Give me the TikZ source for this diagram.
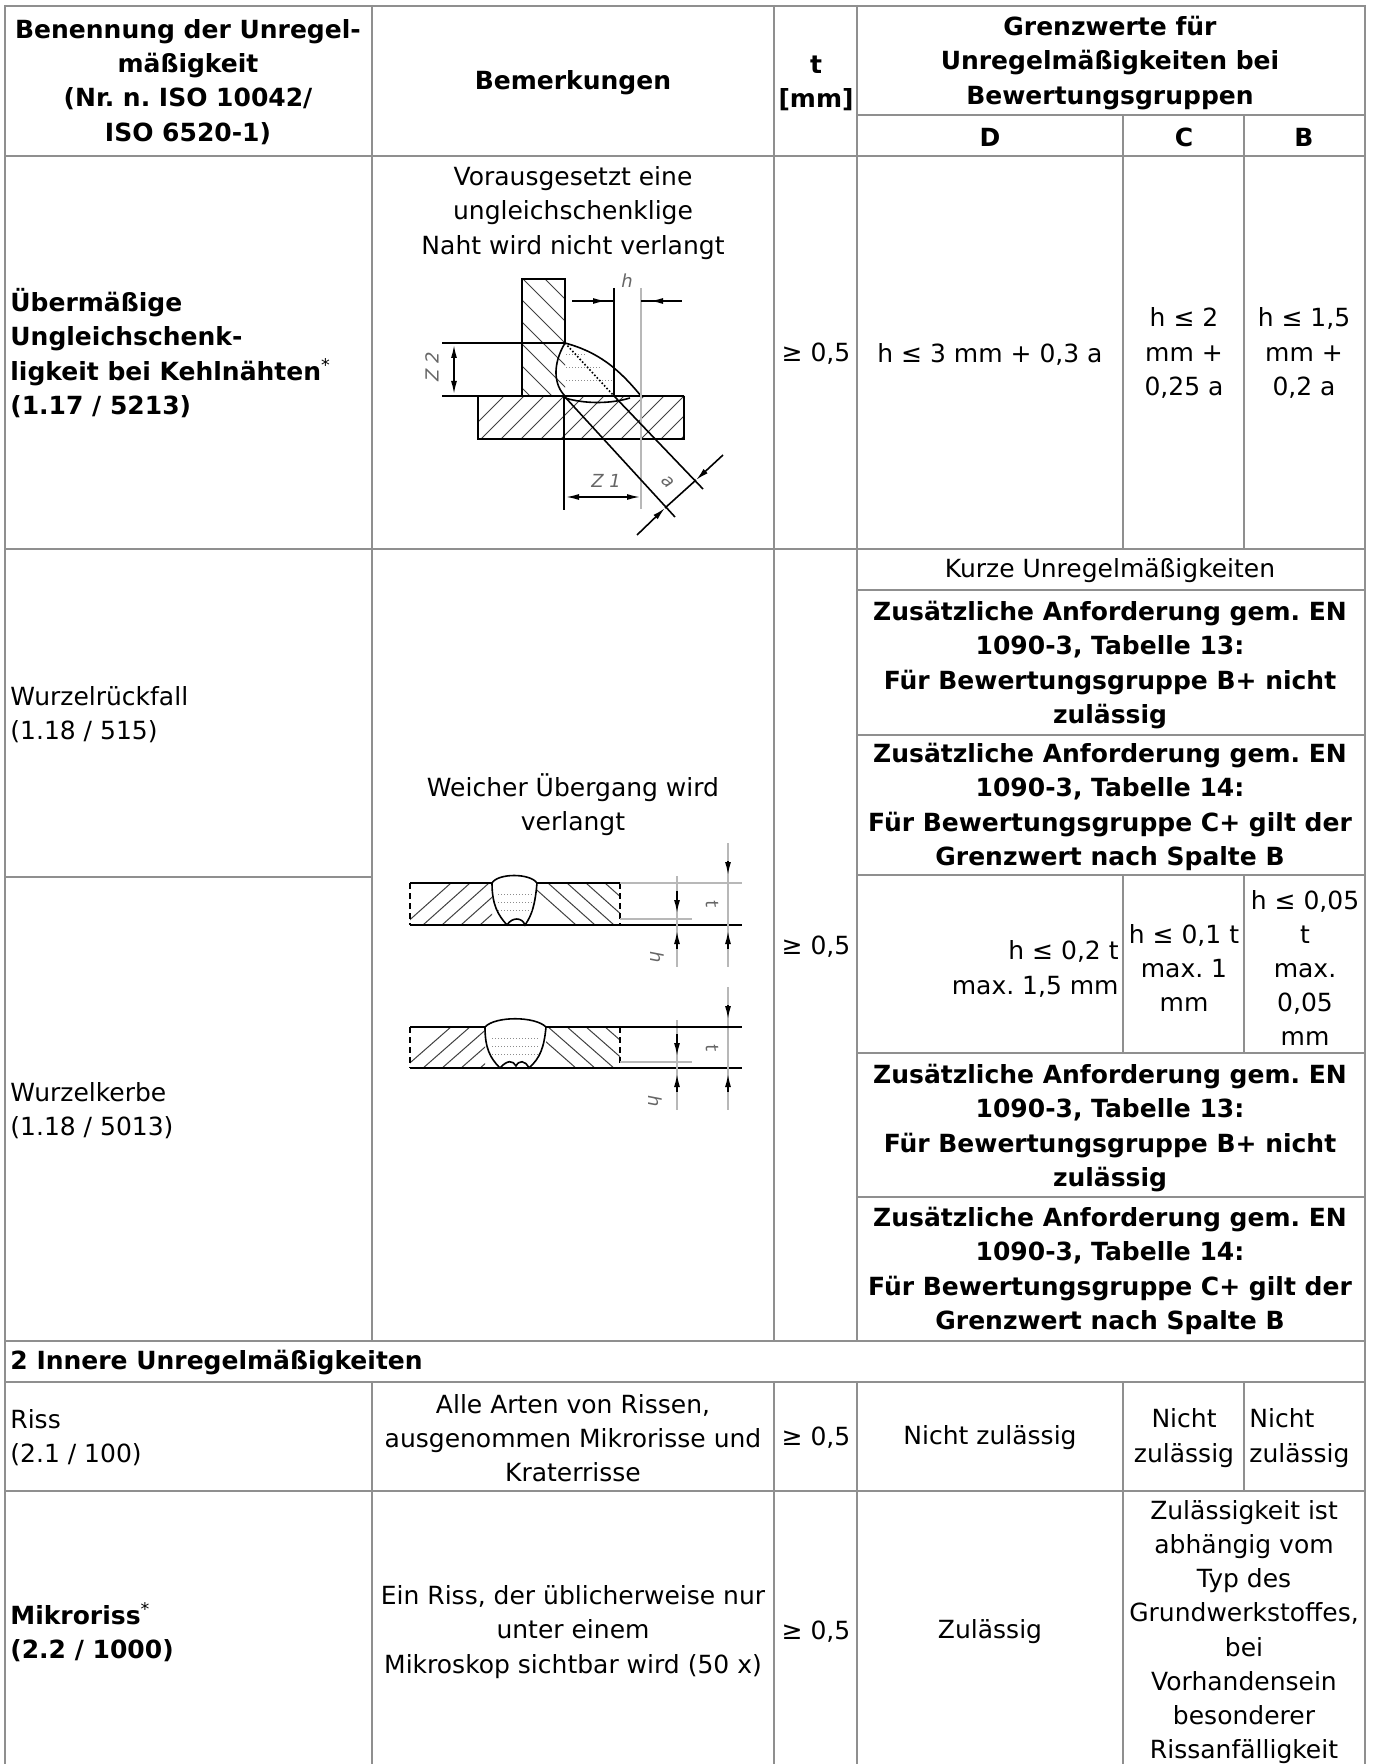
\documentclass[tikz,border=0pt]{standalone}
\usepackage{fontspec}
\setmainfont{DejaVu Sans}
\usetikzlibrary{arrows.meta}
\definecolor{gridgray}{gray}{0.56}
\definecolor{linegray}{gray}{0.72}
\tikzset{%
  >={Latex[width=3pt,length=6.5pt]},
  % Specifications for style of nodes:
         base/.style = {inner sep=0pt, align=center,
                        font=\frenchspacing\fontsize{12.5}{17.1}\selectfont},
     boldcell/.style = {base, font=\frenchspacing\fontsize{12.5}{17.1}\selectfont\bfseries},
     leftcell/.style = {base, anchor=west, align=left},
     leftbold/.style = {boldcell, anchor=west, align=left},
    rightcell/.style = {base, anchor=east, align=right},
     drawtext/.style = {inner sep=0pt, text=black!60, font=\fontsize{9}{10}\selectfont\itshape},
         grid/.style = {draw=gridgray, line width=1pt},
        thick/.style = {draw=black, line width=1.2pt},
         thin/.style = {draw=black, line width=.8pt},
        hatch/.style = {draw=black!75, line width=.5pt},
      dimgray/.style = {draw=linegray, line width=1.1pt},
      stipple/.style = {draw=black!45, line width=.5pt, densely dotted},
}
\begin{document}
\begin{tikzpicture}[x=0.5pt,y=-0.5pt]
  \useasboundingbox (0,0) rectangle (1373,1764);
  % table rules
  \foreach \ya/\xa/\xb in {6/5/1365,115/857/1365,156/5/1365,549/5/1365,590/857/1365,735/857/1365,875/857/1365,877/5/372,1053/857/1365,1197/857/1365,1341/5/1365,1382/5/1365,1491/5/1365}
    \draw[grid] (\xa,\ya) -- (\xb,\ya);
  \foreach \xa/\ya/\yb in {5/5/1764,1365/5/1764,372/5/1341,372/1382/1764,774/5/1341,774/1382/1764,857/5/1341,857/1382/1764,1123/115/549,1123/875/1053,1123/1382/1764,1244/115/549,1244/875/1053,1244/1382/1491}
    \draw[grid] (\xa,\ya) -- (\xa,\yb);

  % Specification of nodes (position, etc.)
  \node (benennung) [boldcell] at (188,82) {Benennung der Unregel-\\mäßigkeit\\(Nr. n. ISO 10042/\\ISO 6520-1)};
  \node (bemerkungen) [boldcell] at (573,83) {Bemerkungen};
  \node (dicke) [boldcell] at (816,83) {t\\{[mm]}};
  \node (grenzwerte) [boldcell] at (1110,63) {Grenzwerte für\\Unregelmäßigkeiten bei\\Bewertungsgruppen};
  \node (gruppeD) [boldcell] at (990,137) {D};
  \node (gruppeC) [boldcell] at (1184,137) {C};
  \node (gruppeB) [boldcell] at (1304,137) {B};

  \node (ungleich) [leftbold] at (10,353) {Übermäßige\\Ungleichschenk-\\ligkeit bei Kehlnähten\textsuperscript{\normalfont *}\\(1.17 / 5213)};
  \node (voraus) [base] at (573,213) {Vorausgesetzt eine\\ungleichschenklige\\Naht wird nicht verlangt};
  \node (ungleichT) [base] at (816,354) {≥ 0,5};
  \node (ungleichD) [base] at (990,354) {h ≤ 3 mm + 0,3 a};
  \node (ungleichC) [base] at (1184,353) {h ≤ 2\\mm +\\0,25 a};
  \node (ungleichB) [base] at (1304,353) {h ≤ 1,5\\mm +\\0,2 a};

  \node (rueckfall) [leftcell] at (10,715) {Wurzelrückfall\\(1.18 / 515)};
  \node (kerbe) [leftcell] at (10,1111) {Wurzelkerbe\\(1.18 / 5013)};
  \node (weicher) [base] at (573,805) {Weicher Übergang wird\\verlangt};
  \node (wurzelT) [base] at (816,947) {≥ 0,5};
  \node (kurze) [base] at (1110,571) {Kurze Unregelmäßigkeiten};
  \node (zusatzA) [boldcell] at (1110,665) {Zusätzliche Anforderung gem. EN\\1090-3, Tabelle 13:\\Für Bewertungsgruppe B+ nicht\\zulässig};
  \node (zusatzB) [boldcell] at (1110,807) {Zusätzliche Anforderung gem. EN\\1090-3, Tabelle 14:\\Für Bewertungsgruppe C+ gilt der\\Grenzwert nach Spalte B};
  \node (wurzelD) [rightcell] at (1119,969) {h ≤ 0,2 t\\max. 1,5 mm};
  \node (wurzelC) [base] at (1184,968) {h ≤ 0,1 t\\max. 1\\mm};
  \node (wurzelB) [base] at (1305,968) {h ≤ 0,05\\t\\max.\\0,05\\mm};
  \node (zusatzC) [boldcell] at (1110,1128) {Zusätzliche Anforderung gem. EN\\1090-3, Tabelle 13:\\Für Bewertungsgruppe B+ nicht\\zulässig};
  \node (zusatzD) [boldcell] at (1110,1271) {Zusätzliche Anforderung gem. EN\\1090-3, Tabelle 14:\\Für Bewertungsgruppe C+ gilt der\\Grenzwert nach Spalte B};

  \node (innere) [leftbold] at (10,1363) {2 Innere Unregelmäßigkeiten};

  \node (riss) [leftcell] at (10,1438) {Riss\\(2.1 / 100)};
  \node (arten) [base] at (573,1438) {Alle Arten von Rissen,\\ausgenommen Mikrorisse und\\Kraterrisse};
  \node (rissT) [base] at (816,1438) {≥ 0,5};
  \node (rissD) [base] at (990,1438) {Nicht zulässig};
  \node (rissC) [base] at (1184,1438) {Nicht\\zulässig};
  \node (rissB) [leftcell] at (1249,1438) {Nicht\\zulässig};

  \node (mikro) [leftbold] at (10,1632) {Mikroriss\textsuperscript{\normalfont *}\\(2.2 / 1000)};
  \node (einriss) [base] at (573,1632) {Ein Riss, der üblicherweise nur\\unter einem\\Mikroskop sichtbar wird (50 x)};
  \node (mikroT) [base] at (816,1632) {≥ 0,5};
  \node (mikroD) [base] at (990,1632) {Zulässig};
  \node (mikroCB) [base] at (1244,1632) {Zulässigkeit ist\\abhängig vom\\Typ des\\Grundwerkstoffes,\\bei\\Vorhandensein\\besonderer\\Rissanfälligkeit};

  % fillet weld sketch
  \begin{scope}
    \clip (522,279) rectangle (565,396);
    \foreach \d in {0,22,...,220}
      \draw[hatch] (500,190+\d) -- (600,290+\d);
  \end{scope}
  \begin{scope}
    \clip (478,396) rectangle (684,439);
    \foreach \d in {0,20,...,320}
      \draw[hatch] (430+\d,470) -- (530+\d,370);
  \end{scope}
  \foreach \ya/\xb in {355/585,368/600,381/612}
    \draw[stipple] (566,\ya) -- (\xb,\ya);
  \draw[thin] (522,396) -- (522,279) -- (565,279) -- (565,343);
  \draw[thick] (478,396) -- (684,396);
  \draw[thick] (478,396) -- (478,439) -- (684,439) -- (684,396);
  \draw[thin] (442,343) -- (565,343);
  \draw[thin] (442,396) -- (478,396);
  \draw[thin] (565,343) .. controls (598,352) and (618,368) .. (641,396);
  \draw[thin] (565,343) .. controls (552,365) and (554,385) .. (565,396);
  \draw[thin] (565,398) .. controls (585,404) and (610,404) .. (630,398);
  \draw[thin,densely dotted] (565,343) -- (614,396);
  \draw[thin] (564,396) -- (564,510);
  \draw[thin] (614,288) -- (614,396);
  \draw[dimgray] (641,288) -- (641,509);
  \draw[thin] (572,301) -- (614,301);
  \draw[thin] (641,301) -- (682,301);
  \draw[thin,->] (590,301) -- (606,301);
  \draw[thin,->] (664,301) -- (650,301);
  \draw[thin,<->] (454,345) -- (454,394);
  \draw[thin,<->] (566,497) -- (640,497);
  \draw[thin] (565,397) -- (675,517);
  \draw[thin] (614,396) -- (703,489);
  \draw[thin,->] (637,535) -- (665,508);
  \draw[thin,->] (723,455) -- (696,480);
  \draw[thin] (665,508) -- (696,480);
  \node (hlabelA) [drawtext] at (627,281) {h};
  \node (zlabelB) [drawtext,rotate=90] at (432,367) {Z 2};
  \node (zlabelA) [drawtext] at (606,481) {Z 1};
  \node (alabel) [drawtext,rotate=-45] at (668,482) {a};

  % butt weld sketches
  \foreach \ytop/\ybot/\xl/\xr in {883/925/492/537,1027/1068/485/546} {
    \begin{scope}
      \clip (410,\ytop) rectangle (\xl,\ybot);
      \foreach \d in {0,19,...,130}
        \draw[hatch] (395+\d,\ybot+8) -- (460+\d,\ytop-8);
    \end{scope}
    \begin{scope}
      \clip (\xr,\ytop) rectangle (620,\ybot);
      \foreach \d in {0,19,...,120}
        \draw[hatch] (520+\d,\ytop-8) -- (585+\d,\ybot+8);
    \end{scope}
    \draw[thick] (410,\ytop) -- (\xl,\ytop);
    \draw[thick] (\xr,\ytop) -- (620,\ytop);
    \draw[thin,densely dashed] (410,\ytop) -- (410,\ybot);
    \draw[thin,densely dashed] (620,\ytop) -- (620,\ybot);
    \draw[thick] (410,\ybot) -- (742,\ybot);
    \draw[draw=linegray, line width=.6pt] (620,\ybot-6) -- (692,\ybot-6);
    \draw[dimgray] (677,\ytop-7) -- (677,\ybot+42);
    \draw[dimgray] (728,\ytop-40) -- (728,\ybot+42);
  }
  \draw[draw=linegray, line width=.6pt] (620,883) -- (742,883);
  \draw[thin] (620,1027) -- (742,1027);
  % bead of the upper weld
  \draw[thin,fill=white] (492,883) .. controls (498,873) and (530,873) .. (537,883) .. controls (535,905) and (532,915) .. (525,925)
     .. controls (522,917) and (512,917) .. (507,925) .. controls (498,915) and (492,905) .. (492,883);
  % bead of the lower weld
  \draw[thin,fill=white] (485,1027) .. controls (495,1016) and (535,1016) .. (546,1027) .. controls (544,1048) and (540,1058) .. (529,1068)
     .. controls (525,1060) and (519,1060) .. (516,1066) .. controls (513,1060) and (507,1060) .. (500,1068) .. controls (490,1058) and (485,1048) .. (485,1027);
  \foreach \ya in {894,902,910}
    \draw[stipple] (498,\ya) -- (532,\ya);
  \foreach \ya in {1038,1046,1054}
    \draw[stipple] (492,\ya) -- (538,\ya);
  \foreach \ytop/\ybot in {883/925,1027/1068} {
    \draw[thin,->] (677,\ybot-34) -- (677,\ybot-12);
    \draw[thin,->] (677,\ybot+24) -- (677,\ybot+6);
    \draw[thin,->] (728,\ytop-22) -- (728,\ytop-8);
    \draw[thin,->] (728,\ybot+24) -- (728,\ybot+6);
  }
  \node (tlabelA) [drawtext,rotate=-80] at (712,904) {t};
  \node (hlabelB) [drawtext,rotate=-90] at (657,957) {h};
  \node (tlabelB) [drawtext,rotate=-80] at (712,1048) {t};
  \node (hlabelC) [drawtext,rotate=-90] at (655,1101) {h};
\end{tikzpicture}
\end{document}
